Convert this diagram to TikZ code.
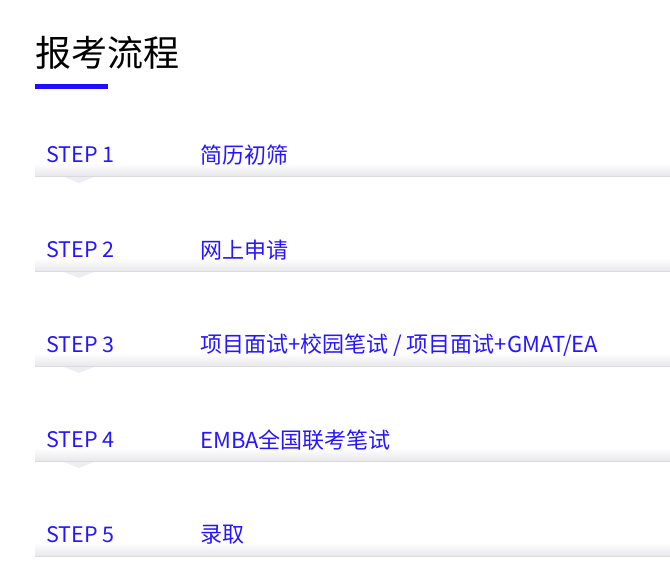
\documentclass[tikz,border=0pt]{standalone}
\usepackage{fontspec}
\setmainfont{Noto Sans CJK SC}
\usepackage{tikz}
\usetikzlibrary{positioning,backgrounds}
\definecolor{stepblue}{RGB}{38,22,255}
\definecolor{barblue}{RGB}{32,12,255}
\definecolor{bandgray}{RGB}{232,232,236}
\definecolor{linegray}{RGB}{218,218,224}
\definecolor{tipgray}{RGB}{238,238,242}
\tikzstyle{title} = [anchor=west, inner sep=0pt, font=\fontsize{36}{40}\selectfont]
\tikzstyle{stepno} = [anchor=west, inner sep=0pt, text=stepblue,
font=\fontsize{21.5}{24}\selectfont]
\tikzstyle{task} = [anchor=west, inner sep=0pt, text=stepblue,
font=\fontsize{22}{24}\selectfont]
\tikzstyle{band} = [top color=white, bottom color=bandgray]

\begin{document}
\begin{tikzpicture}[node distance=95pt]

	\useasboundingbox (0,0) rectangle (670pt,-565pt);

	\node [title] (head) at (35pt,-53pt) {报考流程};
	\fill [barblue] (35pt,-84pt) rectangle (108pt,-89pt);

	\node [stepno] (step1) at (46pt,-155pt) {STEP 1};
	\node [stepno, below of=step1] (step2) {STEP 2};
	\node [stepno, below of=step2] (step3) {STEP 3};
	\node [stepno, below of=step3] (step4) {STEP 4};
	\node [stepno, below of=step4] (step5) {STEP 5};

	\node [task] (task1) at ([xshift=154pt]step1.west) {简历初筛};
	\node [task] (task2) at ([xshift=154pt]step2.west) {网上申请};
	\node [task] (task3) at ([xshift=154pt]step3.west) {项目面试+校园笔试 / 项目面试+GMAT/EA};
	\node [task] (task4) at ([xshift=154pt]step4.west) {EMBA全国联考笔试};
	\node [task] (task5) at ([xshift=154pt]step5.west) {录取};

	% bands under each step
	\begin{scope}[on background layer]
	\foreach \s in {1,...,5} {
		\shade [band] ([shift={(-11pt,-8pt)}]step\s.west) rectangle ([shift={(624pt,-21pt)}]step\s.west);
		\draw [linegray, line width=1pt] ([shift={(-11pt,-21.5pt)}]step\s.west) -- ([shift={(624pt,-21.5pt)}]step\s.west);
	}
	\foreach \s in {1,...,4} {
		\fill [tipgray] ([shift={(18pt,-22pt)}]step\s.west) -- ([shift={(33pt,-28pt)}]step\s.west)
			-- ([shift={(48pt,-22pt)}]step\s.west) -- cycle;
	}
	\end{scope}

\end{tikzpicture}
\end{document}
